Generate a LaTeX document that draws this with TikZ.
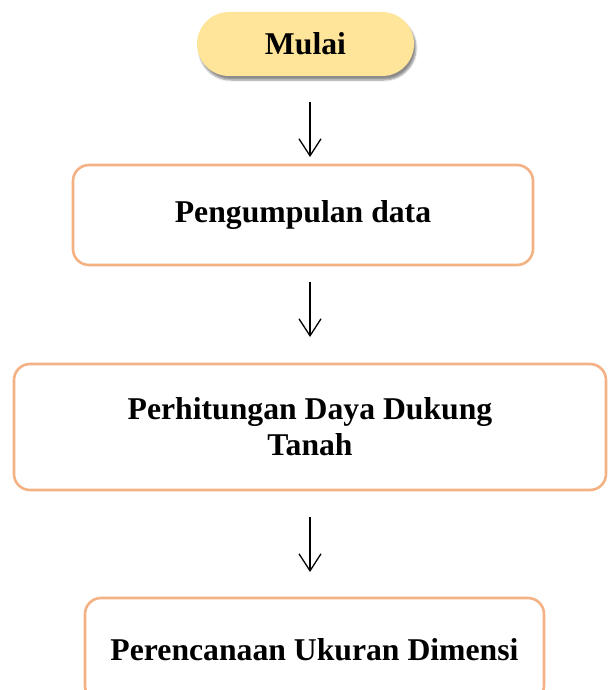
\documentclass[tikz,border=0pt]{standalone}
\usepackage{fontspec}
\setmainfont{Liberation Serif}
\usetikzlibrary{arrows.meta,shadows.blur}
\definecolor{boxline}{HTML}{F4B183}
\definecolor{startfill}{HTML}{FFE599}
\tikzset{
  stepbox/.style={draw=boxline, line width=2.6pt, rounded corners=16pt, fill=white,
    font=\fontsize{31.7}{36}\selectfont\bfseries, align=center, inner sep=0pt},
  startbox/.style={fill=startfill, rounded corners=32pt, inner sep=0pt,
    minimum width=217pt, minimum height=64pt,
    font=\fontsize{31.7}{36}\selectfont\bfseries,
    blur shadow={shadow xshift=2pt, shadow yshift=-4pt, shadow blur steps=6, shadow opacity=45}},
  flow/.style={line width=1.3pt, -{Straight Barb[length=17pt, width=22pt, line width=1.3pt]}}
}
\begin{document}
\begin{tikzpicture}[x=1pt, y=-1pt]
\useasboundingbox (0,0) rectangle (608,690);
\clip (0,0) rectangle (608,690);
\node[startbox] (mulai) at (305.5,44) {Mulai};
\node[stepbox, minimum width=460pt, minimum height=100pt] (data) at (303,215) {Pengumpulan data};
\node[stepbox, minimum width=592pt, minimum height=126pt] (daya) at (310,427) {Perhitungan Daya Dukung\\Tanah};
\node[stepbox, minimum width=459pt, minimum height=104pt] (dimensi) at (314.5,650) {Perencanaan Ukuran Dimensi};
\coordinate (a1s) at (310,102);
\coordinate (a1e) at (310,157);
\coordinate (a2s) at (310,282);
\coordinate (a2e) at (310,337);
\coordinate (a3s) at (310,517);
\coordinate (a3e) at (310,572);
\draw[flow] (a1s) -- (a1e);
\draw[flow] (a2s) -- (a2e);
\draw[flow] (a3s) -- (a3e);
\end{tikzpicture}
\end{document}
